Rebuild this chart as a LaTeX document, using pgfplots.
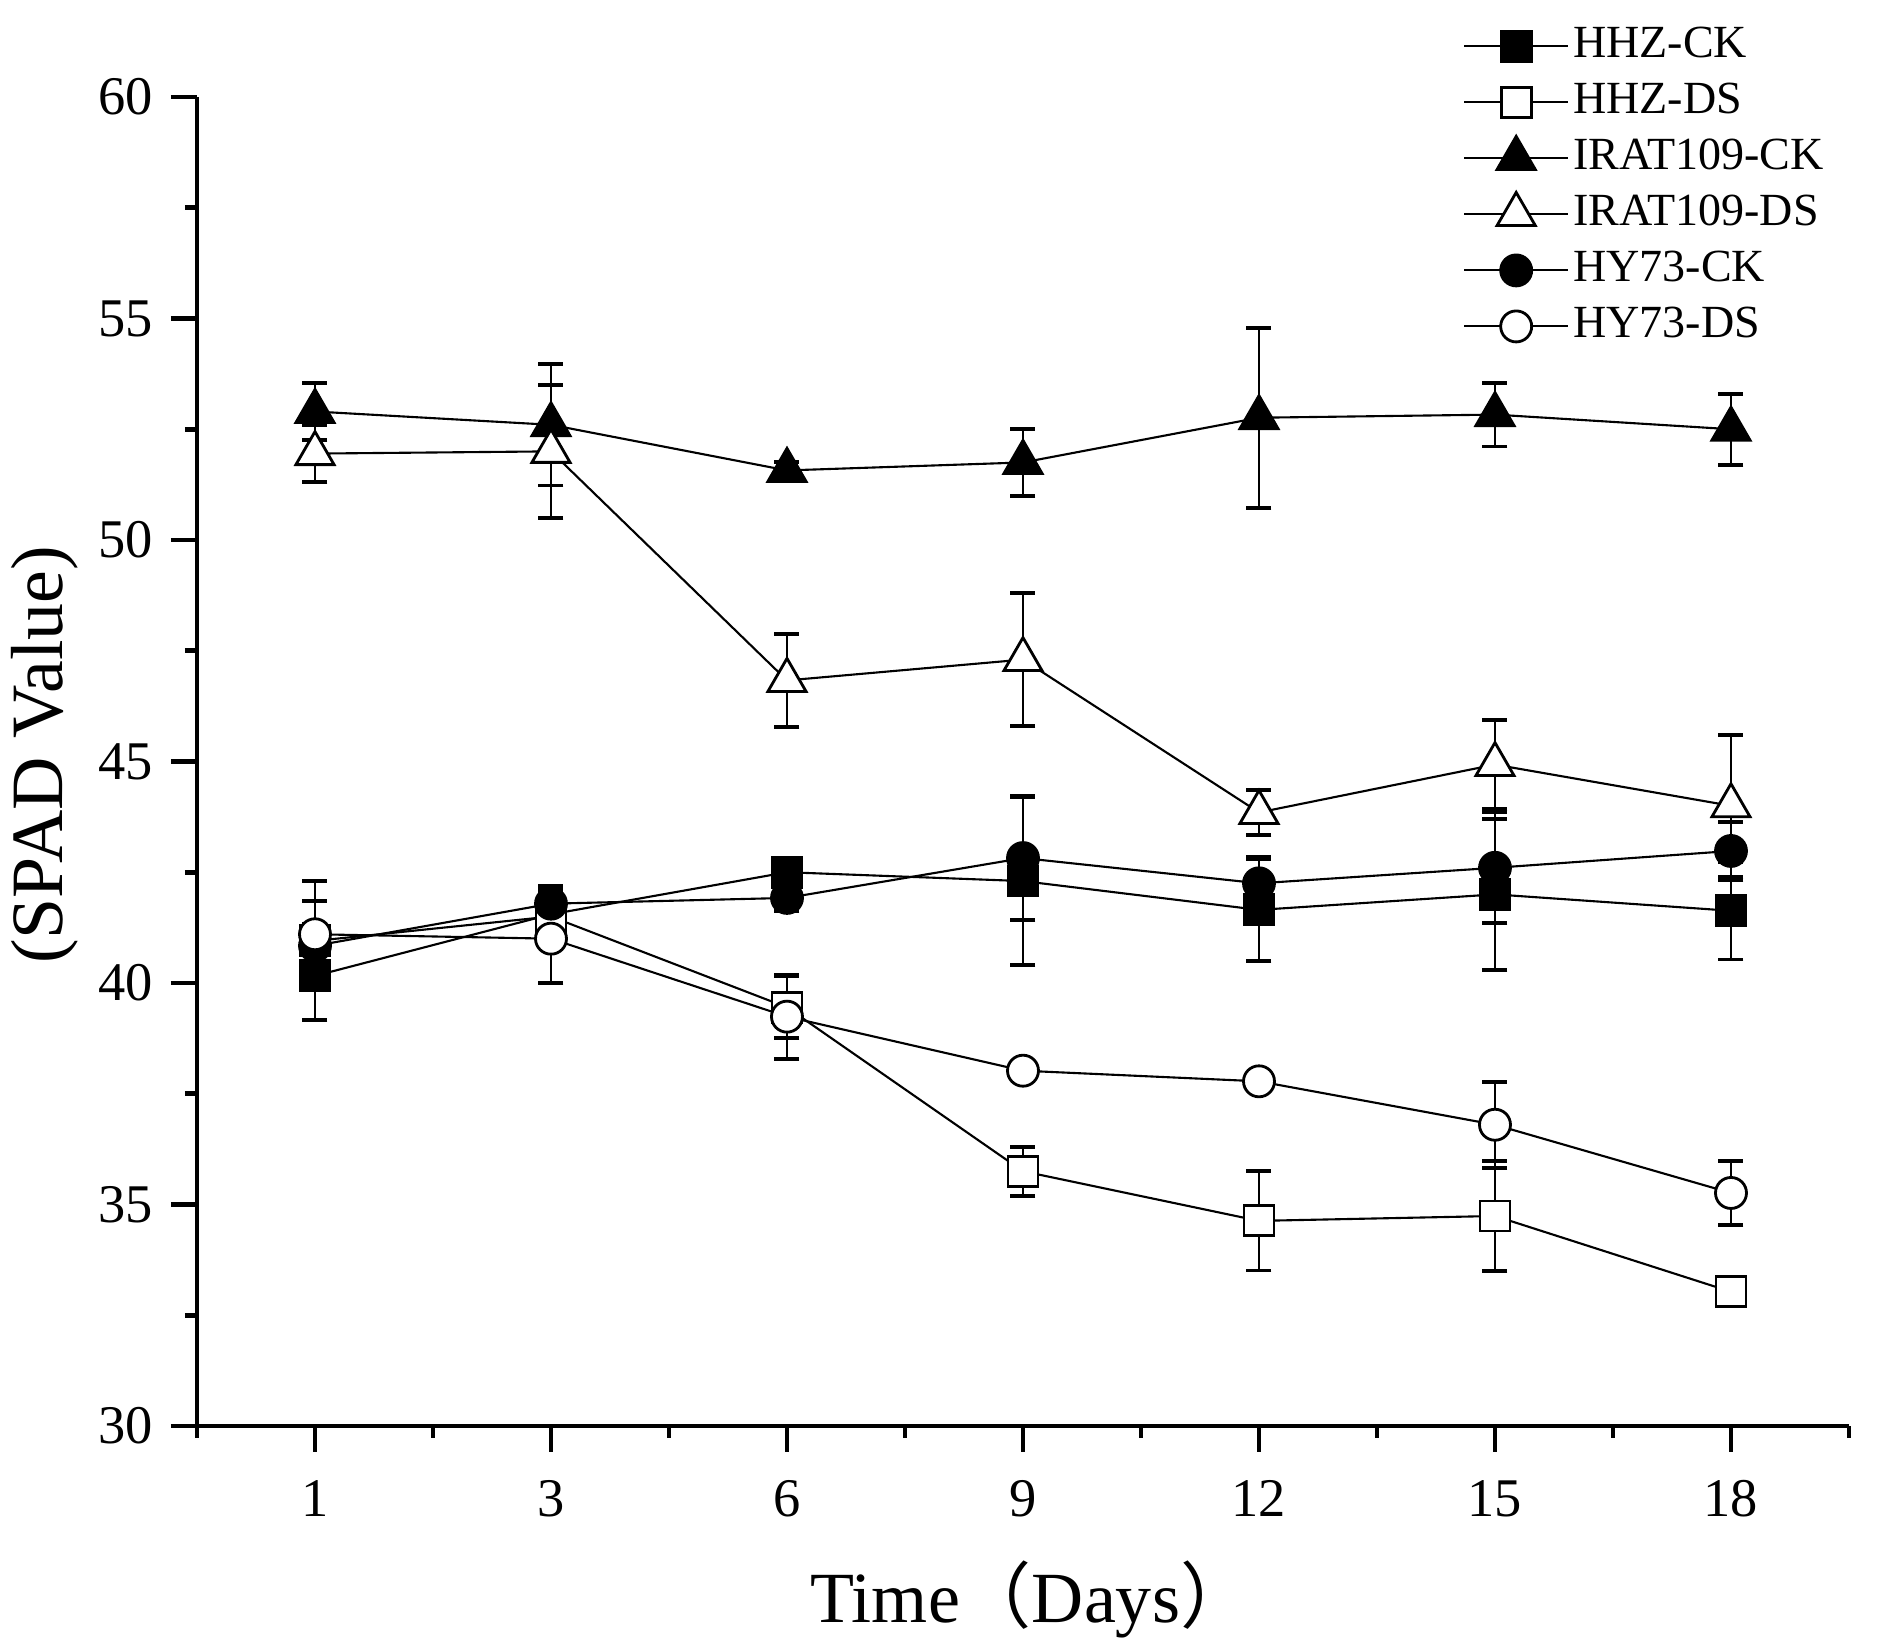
\documentclass[border=0pt]{standalone}
\usepackage{fontspec}
\setmainfont{Liberation Serif}
\newfontfamily\cjk{Noto Sans CJK SC}
\usepackage{pgfplots}
\pgfplotsset{compat=1.18}

% day -> index: 1->1, 3->2, 6->3, 9->4, 12->5, 15->6, 18->7
% columns: x, mean, error
\begin{document}
\begin{tikzpicture}
\begin{axis}[
    scale only axis,
    width=165.2mm, height=132.9mm,
    xmin=0.5, xmax=7.5,
    ymin=30, ymax=60,
    axis lines*=left,
    axis line style={line width=1.3pt},
    every tick/.style={black, line width=1.3pt},
    tick align=outside,
    major tick length=2.6mm,
    minor tick length=1.2mm,
    xtick={1,2,3,4,5,6,7},
    xticklabels={1,3,6,9,12,15,18},
    minor xtick={0.5,1.5,2.5,3.5,4.5,5.5,6.5,7.5},
    ytick={30,35,40,45,50,55,60},
    minor ytick={32.5,37.5,42.5,47.5,52.5,57.5},
    tick label style={font=\fontsize{15.5}{18}\selectfont},
    xticklabel style={yshift=-1.6mm},
    yticklabel style={xshift=-0.6mm},
    /pgf/number format/assume math mode=true,
    xlabel={Time{\cjk （}Days{\cjk ）}},
    ylabel={(SPAD Value)},
    every axis x label/.style={at={(axis description cs:0.505,-0.148)}, anchor=base,
        font=\fontsize{20.5}{24}\selectfont},
    every axis y label/.style={at={(axis description cs:-0.092,0.505)}, anchor=center, rotate=90,
        font=\fontsize{21}{24}\selectfont},
    legend style={at={(axis description cs:0.766,1.057)}, anchor=north west,
        draw=none, fill=none, font=\fontsize{13.1}{15}\selectfont,
        row sep=0.7mm, inner sep=0pt,
        nodes={inner sep=0.4mm, text height=3.2mm, text depth=0.9mm}},
    legend cell align=left,
    legend image code/.code={%
        \draw[mark repeat=2, mark phase=2, #1]
        plot coordinates {(0mm,0mm) (5.2mm,0mm) (10.4mm,0mm)};},
    every axis plot/.append style={black, line width=0.6pt},
    error bars/y dir=both,
    error bars/y explicit,
    error bars/error bar style={line width=0.5pt},
    error bars/error mark options={rotate=90, mark size=1.25mm, line width=1.1pt},
]

\addplot[mark=square*, mark size=1.5mm, mark options={fill=black, line width=0.8pt}]
  table[x index=0, y index=1, y error index=2] {
1 40.16 1.0
2 41.55 0.55
3 42.5 0.3
4 42.3 1.9
5 41.65 1.15
6 42.0 1.7
7 41.63 1.1
};
\addlegendentry{HHZ-CK}

\addplot[mark=square*, mark size=1.5mm, mark options={fill=white, line width=0.8pt}]
  table[x index=0, y index=1, y error index=2] {
1 40.95 0.9
2 41.5 0.6
3 39.45 0.7
4 35.75 0.55
5 34.63 1.12
6 34.74 1.25
7 33.03 0.2
};
\addlegendentry{HHZ-DS}

\addplot[mark=triangle*, mark size=2.2mm, mark options={fill=black, line width=0.8pt}]
  table[x index=0, y index=1, y error index=2] {
1 52.9 0.65
2 52.6 1.37
3 51.57 0.2
4 51.75 0.75
5 52.76 2.03
6 52.83 0.72
7 52.5 0.8
};
\addlegendentry{IRAT109-CK}

\addplot[mark=triangle*, mark size=2.2mm, mark options={fill=white, line width=0.8pt}]
  table[x index=0, y index=1, y error index=2] {
1 51.95 0.65
2 52.0 1.5
3 46.83 1.05
4 47.3 1.5
5 43.85 0.5
6 44.93 1.0
7 44.0 1.6
};
\addlegendentry{IRAT109-DS}

\addplot[mark=*, mark size=1.55mm, mark options={fill=black, line width=0.8pt}]
  table[x index=0, y index=1, y error index=2] {
1 40.84 0.5
2 41.79 0.4
3 41.92 0.3
4 42.82 1.4
5 42.25 0.6
6 42.6 1.25
7 42.98 0.65
};
\addlegendentry{HY73-CK}

\addplot[mark=*, mark size=1.55mm, mark options={fill=white, line width=0.8pt}]
  table[x index=0, y index=1, y error index=2] {
1 41.1 1.2
2 41.0 1.0
3 39.24 0.95
4 38.02 0.2
5 37.78 0.2
6 36.8 0.97
7 35.26 0.73
};
\addlegendentry{HY73-DS}

\coordinate (sw) at (rel axis cs:0,0);
\end{axis}
\pgfresetboundingbox
\path (sw) ++(-19.7mm,-22.6mm) rectangle ([xshift=168.7mm, yshift=142.6mm]sw);
\end{tikzpicture}
\end{document}
